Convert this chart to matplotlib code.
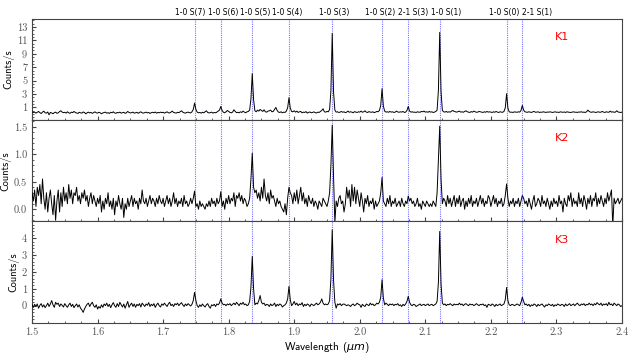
import numpy as np
import matplotlib.pyplot as plt
from matplotlib.ticker import AutoMinorLocator, FormatStrFormatter

# =========================
# Data (0.002 um sampling)
# =========================
wl_start, wl_step, n_pts = 1.5, 0.002, 451
wavelength = wl_start + wl_step * np.arange(n_pts)

line_names = ["1-0 S(7)", "1-0 S(6)", "1-0 S(5)", "1-0 S(4)", "1-0 S(3)",
              "1-0 S(2)", "2-1 S(3)", "1-0 S(1)", "1-0 S(0)", "2-1 S(1)"]
line_wl = [1.748, 1.788, 1.836, 1.892, 1.958, 2.034, 2.0735, 2.122, 2.224, 2.248]
label_wl = [1.741, 1.791, 1.840, 1.890, 1.961, 2.031, 2.081, 2.131, 2.221, 2.270]

panel_names = ["K1", "K2", "K3"]

k1 = [
    0.35, 0.25, 0.30, 0.15, 0.28, 0.40, 0.22, 0.10, 0.30, 0.45, 0.20, 0.15, 0.32, -0.10, 0.25, 0.18, 0.05, 0.22, 0.30, 0.12, 0.20, 0.38, 0.50, 0.30, 0.22,
    0.28, 0.15, 0.35, 0.20, 0.12, 0.30, 0.22, 0.40, 0.25, 0.18, 0.10, 0.28, 0.20, 0.15, 0.32, 0.25, 0.05, 0.20, 0.30, 0.18, 0.25, 0.12, 0.22, 0.35, 0.20,
    0.15, 0.28, 0.20, 0.05, 0.18, 0.25, 0.30, 0.15, 0.22, 0.10, 0.28, 0.20, 0.35, 0.18, 0.12, 0.25, 0.20, 0.30, 0.15, 0.22, 0.28, 0.12, 0.20, 0.40, 0.25,
    0.18, 0.22, 0.30, 0.15, 0.20, 0.28, 0.12, 0.25, 0.35, 0.20, 0.15, 0.22, 0.30, 0.18, 0.25, 0.10, 0.22, 0.28, 0.20, 0.32, 0.15, 0.25, 0.20, 0.30, 0.22,
    0.28, 0.15, 0.25, 0.35, 0.20, 0.18, 0.30, 0.45, 0.25, 0.20, 0.15, 0.28, 0.22, 0.35, 0.50, 0.30, 0.20, 0.15, 0.25, 0.30, 0.22, 0.18, 0.35, 0.70, 1.65,
    0.70, 0.30, 0.20, 0.25, 0.15, 0.28, 0.20, 0.35, 0.50, 0.25, 0.18, 0.22, 0.30, 0.15, 0.25, 0.20, 0.30, 0.45, 0.60, 1.15, 0.55, 0.28, 0.20, 0.35, 0.55,
    0.40, 0.25, 0.20, 0.30, 0.65, 0.40, 0.22, 0.28, 0.20, 0.35, 0.25, 0.45, 0.30, 0.20, 0.35, 0.40, 0.60, 2.30, 6.05, 2.20, 0.50, 0.35, 0.60, 0.45, 0.70,
    0.55, 0.40, 0.65, 0.35, 0.30, 0.45, 0.50, 0.60, 0.35, 0.40, 0.70, 1.00, 0.55, 0.30, 0.25, 0.35, 0.20, 0.30, 0.25, 0.45, 0.95, 2.45, 0.90, 0.40, 0.35,
    0.50, 0.30, 0.45, 0.25, 0.35, 0.40, 0.20, 0.30, 0.25, 0.38, 0.15, 0.28, 0.32, 0.20, 0.25, 0.35, 0.22, 0.18, 0.30, 0.25, 0.40, 0.55, 0.80, 0.35, 0.30,
    0.40, 0.35, 0.70, 3.50, 12.05, 3.30, 0.60, 0.30, 0.35, 0.25, 0.30, 0.40, 0.28, 0.35, 0.22, 0.30, 0.45, 0.28, 0.35, 0.30, 0.20, 0.38, 0.30, 0.25, 0.35,
    0.30, 0.45, 0.28, 0.35, 0.50, 0.30, 0.25, 0.38, 0.30, 0.28, 0.35, 0.22, 0.30, 0.40, 0.35, 0.55, 1.30, 3.80, 1.20, 0.45, 0.30, 0.35, 0.28, 0.40, 0.30,
    0.35, 0.25, 0.30, 0.45, 0.32, 0.28, 0.35, 0.30, 0.40, 0.25, 0.30, 0.55, 1.15, 0.45, 0.30, 0.35, 0.28, 0.30, 0.25, 0.35, 0.30, 0.28, 0.40, 0.35, 0.45,
    0.30, 0.35, 0.28, 0.40, 0.30, 0.35, 0.25, 0.30, 0.40, 0.60, 3.60, 12.20, 3.40, 0.55, 0.35, 0.30, 0.40, 0.28, 0.35, 0.30, 0.45, 0.55, 0.40, 0.35, 0.30,
    0.38, 0.45, 0.30, 0.35, 0.28, 0.40, 0.50, 0.35, 0.30, 0.25, 0.38, 0.30, 0.45, 0.35, 0.28, 0.30, 0.40, 0.35, 0.30, 0.25, 0.35, 0.28, 0.40, 0.30, 0.35,
    0.30, 0.25, 0.35, 0.28, 0.40, 0.30, 0.25, 0.35, 0.30, 0.28, 0.40, 0.95, 3.05, 0.90, 0.35, 0.28, 0.30, 0.25, 0.35, 0.30, 0.28, 0.35, 0.30, 0.55, 1.30,
    0.60, 0.35, 0.30, 0.28, 0.35, 0.30, 0.25, 0.35, 0.40, 0.28, 0.30, 0.35, 0.25, 0.30, 0.28, 0.35, 0.30, 0.25, 0.32, 0.28, 0.35, 0.30, 0.25, 0.30, 0.35,
    0.28, 0.30, 0.25, 0.35, 0.30, 0.28, 0.32, 0.25, 0.35, 0.30, 0.28, 0.25, 0.30, 0.35, 0.28, 0.30, 0.25, 0.32, 0.30, 0.35, 0.28, 0.30, 0.25, 0.35, 0.60,
    0.40, 0.30, 0.28, 0.35, 0.30, 0.25, 0.30, 0.35, 0.28, 0.30, 0.40, 0.30, 0.25, 0.35, 0.30, 0.28, 0.45, 0.30, 0.35, 0.28, 0.30, 0.50, 0.32, 0.28, 0.25,
    0.30,
]

k2 = [
    0.30, 0.15, 0.35, 0.05, 0.40, 0.25, 0.45, 0.10, 0.55, 0.20, 0.00, 0.30, -0.05, 0.20, 0.35, 0.10, -0.10, 0.25, -0.20, 0.15, 0.35, -0.05, 0.30, 0.05, 0.40,
    0.15, 0.30, 0.10, 0.45, 0.20, 0.35, 0.10, 0.30, 0.25, 0.40, 0.15, 0.25, 0.10, 0.30, 0.20, 0.35, 0.15, 0.25, 0.05, 0.20, 0.30, 0.10, 0.25, 0.15, 0.05,
    0.20, 0.10, 0.25, -0.05, 0.15, 0.00, 0.20, 0.10, 0.30, 0.05, 0.15, 0.00, 0.20, -0.10, 0.15, 0.05, 0.25, 0.10, 0.00, 0.20, -0.15, 0.10, 0.00, 0.20, 0.05,
    0.15, 0.25, 0.05, 0.20, 0.10, 0.15, 0.00, 0.20, 0.10, 0.35, 0.15, 0.10, 0.20, 0.05, 0.15, 0.25, 0.10, 0.20, 0.15, 0.05, 0.20, 0.10, 0.25, 0.15, 0.10,
    0.20, 0.05, 0.15, 0.25, 0.10, 0.20, 0.05, 0.15, 0.30, 0.10, 0.20, 0.05, 0.15, 0.10, 0.20, 0.05, 0.25, 0.10, 0.15, 0.05, 0.10, 0.20, 0.10, 0.20, 0.33,
    0.05, 0.10, 0.00, 0.15, 0.05, 0.10, 0.05, 0.00, 0.10, 0.05, 0.15, 0.05, 0.20, 0.10, 0.15, 0.05, 0.20, 0.10, 0.15, 0.32, 0.05, 0.15, 0.00, 0.20, 0.10,
    0.25, 0.10, 0.20, 0.15, 0.30, 0.05, 0.25, 0.20, 0.30, 0.15, 0.25, 0.10, 0.20, 0.15, 0.05, 0.10, 0.20, 0.55, 1.02, 0.40, 0.30, 0.35, 0.20, 0.30, 0.15,
    0.40, 0.20, 0.55, 0.25, 0.15, 0.30, 0.10, 0.35, 0.20, 0.25, 0.15, 0.05, 0.20, 0.10, 0.15, 0.05, 0.00, -0.05, 0.10, -0.10, 0.20, 0.40, 0.30, 0.25, 0.10,
    0.30, 0.15, 0.35, 0.10, 0.25, 0.40, 0.15, 0.30, 0.10, 0.20, 0.05, 0.25, 0.15, 0.10, 0.20, 0.05, 0.15, 0.10, 0.00, 0.15, 0.10, 0.05, 0.20, 0.15, 0.10,
    0.05, 0.15, 0.30, 0.80, 1.53, 0.60, -0.25, 0.15, 0.05, 0.20, 0.25, 0.10, 0.15, -0.05, 0.10, 0.40, 0.20, 0.35, 0.05, 0.45, 0.15, 0.40, 0.10, 0.35, 0.20,
    0.05, 0.30, 0.15, -0.05, 0.20, 0.10, 0.25, 0.05, 0.15, 0.10, 0.20, 0.00, 0.15, 0.05, 0.10, 0.15, 0.30, 0.58, 0.15, 0.10, 0.05, 0.20, 0.10, 0.25, 0.05,
    0.15, 0.10, 0.20, 0.05, 0.10, 0.15, 0.05, 0.20, 0.10, 0.05, 0.15, 0.10, 0.24, 0.15, 0.20, 0.10, 0.15, 0.05, 0.10, 0.20, 0.05, 0.10, 0.00, 0.15, 0.10,
    0.05, 0.15, 0.10, 0.05, 0.10, 0.05, 0.15, 0.10, 0.05, 0.30, 0.90, 1.51, 0.55, 0.10, 0.20, 0.15, 0.05, 0.25, 0.10, 0.20, 0.05, 0.15, 0.25, 0.05, 0.20,
    0.10, 0.25, 0.05, 0.15, 0.20, 0.00, 0.15, 0.05, 0.20, 0.10, 0.25, 0.05, 0.15, 0.10, 0.20, 0.05, 0.15, 0.25, 0.10, 0.20, 0.05, 0.15, 0.10, 0.25, 0.20,
    0.05, 0.15, 0.25, 0.10, 0.20, 0.05, 0.15, 0.10, 0.20, 0.05, 0.10, 0.25, 0.46, 0.20, 0.05, 0.15, 0.10, 0.20, 0.05, 0.15, 0.10, 0.20, 0.05, 0.15, 0.25,
    0.20, 0.10, 0.15, 0.05, 0.20, 0.10, 0.00, 0.15, 0.25, 0.05, 0.10, 0.20, 0.15, 0.05, 0.25, 0.10, 0.15, 0.05, 0.20, 0.10, 0.00, 0.15, 0.05, 0.20, 0.10,
    0.15, 0.05, 0.25, 0.10, 0.15, -0.05, 0.20, 0.10, 0.05, 0.25, 0.15, 0.30, 0.05, 0.20, 0.10, 0.15, 0.05, 0.30, 0.10, 0.20, 0.05, 0.25, 0.15, 0.00, 0.20,
    0.10, 0.25, 0.05, 0.20, 0.15, 0.30, 0.05, 0.20, 0.10, 0.25, 0.15, 0.05, 0.20, 0.10, 0.30, 0.15, 0.25, 0.35, -0.30, 0.20, 0.10, 0.15, 0.20, 0.10, 0.15,
    0.20,
]

k3 = [
    0.05, -0.10, 0.08, -0.05, 0.10, -0.15, 0.02, 0.12, -0.08, 0.05, -0.12, 0.00, 0.15, -0.05, 0.10, 0.30, 0.05, -0.10, 0.20, 0.08, 0.15, -0.05, 0.10, 0.02, -0.08,
    0.12, 0.00, -0.10, 0.05, 0.15, -0.05, 0.08, -0.12, 0.00, 0.10, -0.08, 0.05, -0.15, -0.25, -0.40, -0.20, -0.05, 0.08, 0.15, -0.05, 0.10, 0.20, 0.00, -0.10, 0.05,
    -0.20, -0.05, -0.15, 0.05, -0.10, 0.10, 0.00, 0.15, -0.05, 0.08, -0.12, 0.05, 0.18, 0.00, -0.10, 0.12, -0.05, 0.20, 0.05, -0.08, 0.10, -0.15, 0.05, 0.25, -0.10,
    0.05, 0.15, -0.05, 0.10, -0.10, 0.08, 0.00, 0.12, -0.08, 0.15, 0.05, -0.05, 0.10, 0.02, 0.18, -0.05, 0.08, 0.00, 0.12, -0.10, 0.05, 0.15, 0.00, -0.08, 0.10,
    0.02, 0.15, 0.05, -0.05, 0.10, 0.20, 0.00, 0.08, -0.05, 0.12, 0.05, 0.15, 0.00, 0.10, 0.18, 0.05, -0.05, 0.10, 0.00, 0.12, 0.05, -0.02, 0.08, 0.30, 0.79,
    0.30, 0.00, -0.10, 0.05, -0.05, 0.10, 0.00, -0.08, 0.05, 0.12, -0.05, -0.15, 0.05, 0.00, 0.08, -0.05, 0.10, 0.05, 0.15, 0.40, 0.15, 0.05, 0.08, 0.00, 0.10,
    0.05, 0.12, 0.00, 0.08, 0.15, 0.05, 0.20, 0.10, 0.00, 0.15, 0.08, 0.20, 0.05, 0.10, 0.00, 0.05, 0.25, 1.10, 2.92, 1.00, 0.05, 0.15, 0.10, 0.30, 0.60,
    0.20, 0.10, 0.15, 0.00, 0.08, 0.05, -0.05, 0.10, 0.00, 0.05, 0.15, -0.05, 0.08, 0.00, 0.10, 0.05, -0.08, 0.00, 0.05, 0.15, 0.40, 1.14, 0.35, 0.00, 0.10,
    0.25, 0.05, 0.15, 0.00, 0.10, 0.05, 0.18, -0.05, 0.08, 0.00, 0.10, 0.05, -0.05, 0.10, 0.05, 0.00, 0.08, 0.15, 0.05, 0.10, 0.20, 0.40, 0.15, 0.05, 0.10,
    0.05, 0.10, 0.30, 1.60, 4.50, 1.50, 0.20, -0.15, 0.10, 0.05, 0.12, 0.00, 0.08, 0.10, 0.05, 0.00, 0.05, 0.02, -0.05, 0.05, 0.10, 0.00, 0.05, 0.15, 0.08,
    0.05, -0.10, 0.08, 0.00, -0.05, 0.10, 0.05, 0.00, 0.15, 0.05, 0.10, 0.00, 0.05, 0.15, 0.10, 0.20, 0.50, 1.54, 0.45, 0.05, 0.15, 0.08, 0.00, 0.10, 0.05,
    0.10, 0.00, 0.08, 0.05, 0.12, 0.00, 0.05, -0.05, 0.08, 0.00, 0.10, 0.25, 0.55, 0.20, 0.05, 0.00, 0.08, 0.05, -0.05, 0.00, 0.05, 0.10, 0.00, 0.05, 0.08,
    0.00, 0.05, 0.10, 0.00, 0.05, 0.08, 0.00, 0.05, 0.10, 0.25, 1.40, 4.40, 1.30, 0.15, 0.05, 0.10, 0.00, 0.08, 0.05, 0.12, 0.05, 0.00, 0.10, 0.05, 0.08,
    0.05, 0.15, 0.05, 0.10, 0.00, 0.08, 0.12, 0.05, 0.00, 0.10, 0.05, 0.08, 0.00, 0.05, 0.12, 0.05, 0.00, 0.08, 0.05, 0.10, 0.00, 0.05, -0.10, 0.08, 0.05,
    0.00, 0.10, 0.05, -0.05, 0.08, 0.00, 0.05, 0.10, 0.00, 0.05, 0.10, 0.35, 1.08, 0.30, 0.05, 0.00, 0.08, 0.05, 0.00, 0.05, 0.10, 0.05, 0.00, 0.20, 0.50,
    0.25, 0.05, 0.10, 0.00, 0.08, -0.05, 0.05, 0.00, 0.10, 0.05, -0.05, 0.08, 0.00, 0.05, 0.10, 0.00, -0.08, 0.05, 0.00, 0.10, 0.05, 0.00, 0.08, -0.05, 0.05,
    0.00, 0.10, 0.05, 0.00, 0.08, 0.05, -0.05, 0.10, 0.00, 0.05, 0.12, 0.00, 0.05, 0.10, 0.00, 0.08, 0.15, 0.05, 0.00, 0.10, 0.05, 0.12, 0.00, 0.08, 0.05,
    0.15, 0.05, 0.10, 0.00, 0.12, 0.05, 0.18, 0.10, 0.05, 0.15, 0.00, 0.10, 0.05, 0.12, 0.00, 0.20, 0.05, 0.10, 0.00, 0.15, 0.08, 0.00, 0.10, 0.05, -0.05,
    0.00,
]

spectra = [k1, k2, k3]
ylims = [(-0.9, 14.2), (-0.22, 1.62), (-1.0, 5.0)]
yticks = [[1, 3, 5, 7, 9, 11, 13], [0.0, 0.5, 1.0, 1.5], [0, 1, 2, 3, 4]]
yfmt = ["%d", "%.1f", "%d"]

# =========================
# Plot
# =========================
plt.rcParams["axes.unicode_minus"] = False
tick_font = "cmr10"
label_font = "cmss10"
spine_col = "#444444"

fig, axes = plt.subplots(3, 1, figsize=(6.34, 3.55), dpi=100, sharex=True)
fig.subplots_adjust(left=0.0505, right=0.981, top=0.9465, bottom=0.0915, hspace=0)

for i, ax in enumerate(axes):
    ax.plot(wavelength, spectra[i], color="black", lw=0.7, zorder=3)
    for w in line_wl:
        ax.axvline(w, color="blue", ls=(0, (1, 1)), lw=0.8, alpha=0.55, zorder=2)
    ax.set_xlim(1.5, 2.4)
    ax.set_ylim(*ylims[i])
    ax.set_yticks(yticks[i])
    ax.yaxis.set_major_formatter(FormatStrFormatter(yfmt[i]))
    ax.yaxis.set_minor_locator(AutoMinorLocator())
    ax.xaxis.set_minor_locator(AutoMinorLocator(4))
    ax.tick_params(which="both", direction="in", colors=spine_col, labelsize=7.5)
    ax.tick_params(which="major", length=3)
    ax.tick_params(which="minor", length=1.5)
    for lab in ax.get_yticklabels() + ax.get_xticklabels():
        lab.set_fontfamily(tick_font)
        lab.set_color("#555555")
    for s in ax.spines.values():
        s.set_color(spine_col)
        s.set_linewidth(0.8)
    ax.set_ylabel("Counts/s", fontfamily=label_font, fontsize=7.5, labelpad=2)
    ax.text(2.308, 0.82, panel_names[i], transform=ax.get_xaxis_transform(),
            color="red", fontsize=8, fontfamily="DejaVu Sans", ha="center", va="center")

axes[2].set_xticks(np.arange(1.5, 2.41, 0.1))
axes[2].xaxis.set_major_formatter(FormatStrFormatter("%.1f"))
for lab in axes[2].get_xticklabels():
    lab.set_fontfamily(tick_font)
axes[2].set_xlabel(r"Wavelength ($\mu m$)", fontfamily=label_font, fontsize=8, labelpad=2)

for name, x in zip(line_names, label_wl):
    axes[0].text(x, 1.06, name, transform=axes[0].get_xaxis_transform(),
                 fontsize=5.5, fontfamily="DejaVu Sans", ha="center", va="center")

fig.savefig("out.png", dpi=100)
